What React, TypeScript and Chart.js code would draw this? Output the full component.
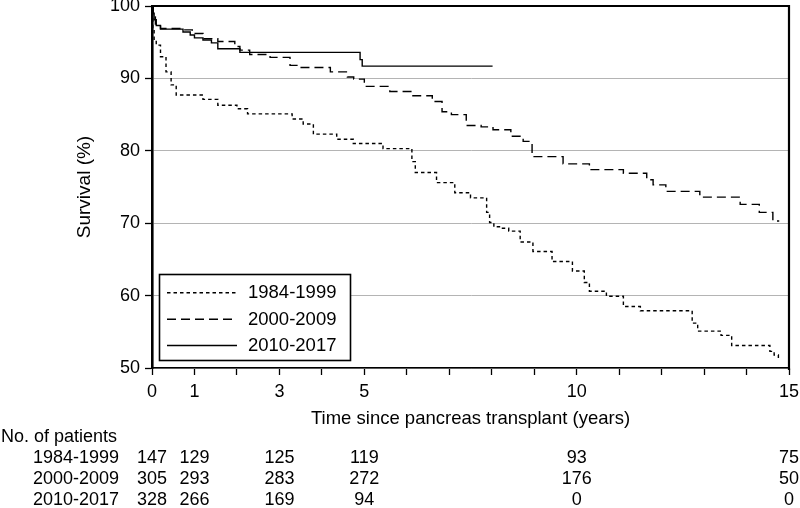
import React, { useEffect, useRef } from "react";
import { Chart, registerables } from "chart.js";

Chart.register(...registerables);

const FONT = "Arial, 'Liberation Sans', Helvetica, sans-serif";

const seriesLabels = ["1984-1999", "2000-2009", "2010-2017"];

// 1984-1999 (dotted)
const t1984 = [0, 0.02, 0.05, 0.1, 0.2, 0.33, 0.45, 0.57, 1.2, 1.55, 2.0, 2.25, 3.3, 3.56, 3.8, 4.35, 4.74, 5.44, 6.12, 6.2, 6.7, 7.13, 7.5, 7.88, 7.95, 8.05, 8.2, 8.4, 8.67, 8.97, 9.42, 9.9, 10.18, 10.3, 10.7, 11.1, 11.5, 12.72, 12.85, 13.4, 13.65, 14.55, 14.65, 14.75];
const s1984 = [100, 97, 95.1, 94.6, 93.0, 90.9, 89.1, 87.7, 87.1, 86.3, 85.8, 85.1, 84.4, 83.7, 82.3, 81.6, 81.0, 80.3, 78.5, 77.0, 75.6, 74.2, 73.5, 71.5, 70.1, 69.5, 69.3, 68.9, 67.4, 66.1, 64.7, 63.4, 61.8, 60.6, 59.9, 58.5, 57.9, 56.2, 55.1, 54.5, 53.1, 52.3, 51.8, 51.2];

// 2000-2009 (dashed)
const t2000 = [0, 0.03, 0.08, 0.2, 0.73, 0.95, 1.2, 1.55, 1.95, 2.07, 2.3, 2.78, 3.25, 3.48, 4.2, 4.6, 4.75, 5.0, 5.6, 6.12, 6.6, 6.83, 7.05, 7.4, 7.75, 8.03, 8.45, 8.74, 8.95, 9.68, 10.3, 11.1, 11.65, 11.8, 12.1, 12.9, 13.85, 14.3, 14.62, 14.77];
const s2000 = [100, 98.5, 97.5, 96.9, 96.7, 96.2, 95.5, 95.1, 94.4, 93.9, 93.3, 92.9, 91.8, 91.5, 90.9, 90.2, 89.9, 88.9, 88.2, 87.6, 86.8, 85.4, 85.0, 83.5, 83.3, 82.9, 82.0, 81.3, 79.2, 78.2, 77.4, 76.9, 76.0, 75.3, 74.4, 73.6, 72.6, 71.5, 70.3, 70.3];

// 2010-2017 (solid)
const t2010 = [0, 0.02, 0.05, 0.1, 0.2, 0.73, 0.9, 1.0, 1.2, 1.4, 1.55, 2.07, 4.9, 4.95, 8.02];
const s2010 = [100, 99, 98.1, 97.3, 96.8, 96.4, 96.0, 95.6, 95.3, 94.9, 94.1, 93.6, 92.6, 91.7, 91.7];

const xLabelValues = [0, 1, 3, 5, 10, 15];
const yTicks = [50, 60, 70, 80, 90, 100];

const riskHeader = "No. of patients";
const riskTimes = [0, 1, 3, 5, 10, 15];
const risk1984 = [147, 129, 125, 119, 93, 75];
const risk2000 = [305, 293, 283, 272, 176, 50];
const risk2010 = [328, 266, 169, 94, 0, 0];

const xTitle = "Time since pancreas transplant (years)";
const yTitle = "Survival (%)";

const dashes = [[3.5, 3], [9, 5], []];

const toPoints = (t: number[], s: number[]) => t.map((x, i) => ({ x, y: s[i] }));

export default function App() {
  const ref = useRef<HTMLCanvasElement | null>(null);

  useEffect(() => {
    if (!ref.current) return;
    const seriesData = [toPoints(t1984, s1984), toPoints(t2000, s2000), toPoints(t2010, s2010)];
    const riskRows = [risk1984, risk2000, risk2010];

    const extras = {
      id: "extras",
      afterDatasetsDraw(chart: any) {
        const { ctx, chartArea } = chart;
        const xs = chart.scales.x;
        ctx.save();
        // frame top & right
        ctx.strokeStyle = "#000";
        ctx.lineWidth = 2.2;
        ctx.beginPath();
        ctx.moveTo(chartArea.left, chartArea.top);
        ctx.lineTo(chartArea.right, chartArea.top);
        ctx.lineTo(chartArea.right, chartArea.bottom + 2);
        ctx.stroke();

        // legend
        const bx = 159.5, by = 274.5, bw = 191, bh = 86;
        ctx.fillStyle = "#fff";
        ctx.fillRect(bx, by, bw, bh);
        ctx.lineWidth = 1.6;
        ctx.strokeRect(bx, by, bw, bh);
        const rowsY = [292.7, 319.3, 345.5];
        ctx.font = `18.5px ${FONT}`;
        ctx.textBaseline = "middle";
        ctx.textAlign = "left";
        ctx.fillStyle = "#000";
        chart.data.datasets.forEach((ds: any, i: number) => {
          ctx.beginPath();
          ctx.lineWidth = 1.4;
          ctx.setLineDash(ds.borderDash || []);
          ctx.moveTo(167, rowsY[i]);
          ctx.lineTo(237, rowsY[i]);
          ctx.stroke();
          ctx.setLineDash([]);
          ctx.fillText(ds.label, 248, rowsY[i] + 0.5);
        });

        // number at risk table
        ctx.font = `18px ${FONT}`;
        ctx.textAlign = "left";
        ctx.fillText(riskHeader, 1, 437.5);
        const rowY = [458.5, 479.5, 500.5];
        riskRows.forEach((row, r) => {
          ctx.textAlign = "right";
          ctx.fillText(seriesLabels[r], 119, rowY[r]);
          ctx.textAlign = "center";
          row.forEach((v, k) => {
            ctx.fillText(String(v), xs.getPixelForValue(riskTimes[k]), rowY[r]);
          });
        });
        ctx.restore();
      },
    };

    const chart = new Chart(ref.current, {
      type: "line",
      data: {
        datasets: seriesLabels.map((label, i) => ({
          label,
          data: seriesData[i],
          borderColor: "#000",
          borderWidth: 1.4,
          borderDash: dashes[i],
          pointRadius: 0,
          stepped: "before" as const,
          fill: false,
        })),
      },
      options: {
        responsive: false,
        animation: false,
        layout: { padding: { top: 6, right: 11, bottom: 0, left: 0 } },
        plugins: { legend: { display: false }, tooltip: { enabled: false } },
        scales: {
          x: {
            type: "linear",
            min: 0,
            max: 15,
            afterFit(scale: any) {
              scale.height = 140;
              scale.paddingLeft = 0;
              scale.paddingRight = 0;
            },
            ticks: {
              stepSize: 1,
              autoSkip: false,
              maxRotation: 0,
              padding: 6,
              color: "#000",
              font: { family: FONT, size: 18 },
              callback: (v: any) => (xLabelValues.includes(Number(v)) ? String(v) : ""),
            },
            grid: { drawOnChartArea: false, tickLength: 7, tickColor: "#000", tickWidth: 1.3 },
            border: { display: true, color: "#000", width: 1.5 },
            title: {
              display: true,
              text: xTitle,
              color: "#000",
              font: { family: FONT, size: 18.5 },
              padding: { top: 0, bottom: 77.5 },
            },
          },
          y: {
            type: "linear",
            min: 50,
            max: 100,
            afterFit(scale: any) {
              scale.width = 152;
              scale.paddingTop = 0;
              scale.paddingBottom = 0;
            },
            afterBuildTicks(scale: any) {
              scale.ticks = yTicks.map((value) => ({ value }));
            },
            ticks: {
              padding: 5,
              color: "#000",
              font: { family: FONT, size: 18 },
            },
            grid: { color: "#b4b4b4", lineWidth: 1, tickLength: 7, tickColor: "#000", tickWidth: 1.3 },
            border: { display: true, color: "#000", width: 2.6 },
            title: {
              display: true,
              text: yTitle,
              color: "#000",
              font: { family: FONT, size: 19 },
              padding: { top: 73.5, bottom: 0 },
            },
          },
        },
      },
      plugins: [extras],
    } as any);
    return () => chart.destroy();
  }, []);

  return (
    <div style={{ position: "absolute", left: 0, top: 0, width: 800, height: 508, background: "#fff" }}>
      <canvas ref={ref} width={800} height={508} style={{ display: "block" }} />
    </div>
  );
}
